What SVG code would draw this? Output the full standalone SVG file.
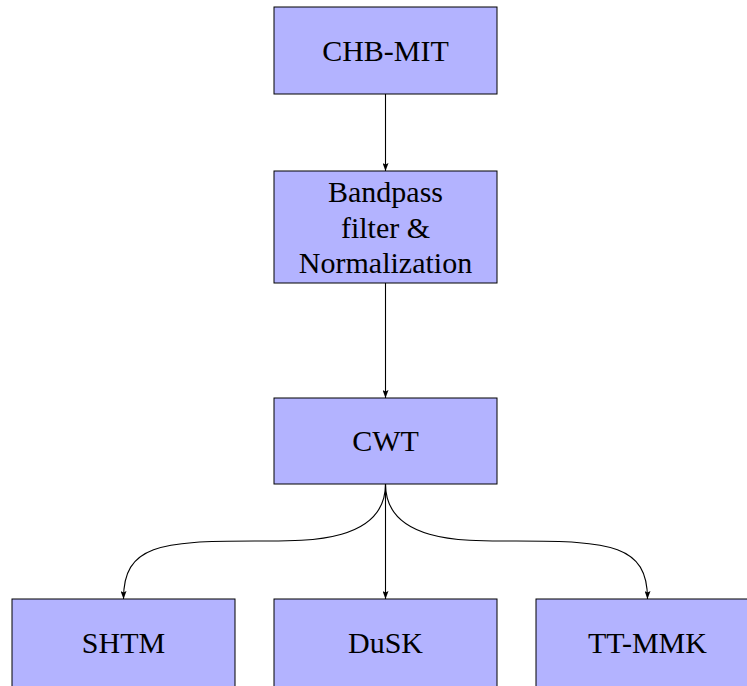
<svg xmlns="http://www.w3.org/2000/svg" width="747" height="686" viewBox="0 0 747 686">
<defs>
<style>
.box{fill:#b3b3ff;stroke:#000;stroke-width:1}
.lbl{font-family:"Liberation Serif","DejaVu Serif",serif;font-size:30px;fill:#000;text-anchor:middle}
.con{fill:none;stroke:#000;stroke-width:1.1}
</style>
<marker id="arr" viewBox="0 0 8 6" refX="8" refY="3" markerWidth="8" markerHeight="6" markerUnits="userSpaceOnUse" orient="auto">
<path d="M0,0 L8,3 L0,6 L1.5,3 Z" fill="#000"/>
</marker>
</defs>
<rect width="747" height="686" fill="#fff"/>
<g id="connectors">
<path class="con" d="M385.5,94 L385.5,171" marker-end="url(#arr)"/>
<path class="con" d="M385.5,283 L385.5,398" marker-end="url(#arr)"/>
<path class="con" d="M385.5,484 L385.5,599" marker-end="url(#arr)"/>
<path class="con" d="M385.5,484 C385.5,545 300,541 254.5,541 C160,541 123.5,545 123.5,599" marker-end="url(#arr)"/>
<path class="con" d="M385.5,484 C385.5,545 471,541 516.5,541 C611,541 647.5,545 647.5,599" marker-end="url(#arr)"/>
</g>
<g id="chbmit">
<rect class="box" x="274" y="7" width="223" height="87"/>
<text class="lbl" x="385.5" y="61">CHB-MIT</text>
</g>
<g id="bandpass">
<rect class="box" x="274" y="171" width="223" height="112"/>
<text class="lbl" x="385.5" y="202">Bandpass</text>
<text class="lbl" x="385.5" y="238">filter &amp;</text>
<text class="lbl" x="385.5" y="273">Normalization</text>
</g>
<g id="cwt">
<rect class="box" x="274" y="398" width="223" height="86"/>
<text class="lbl" x="385.5" y="451">CWT</text>
</g>
<g id="shtm">
<rect class="box" x="12" y="599" width="223" height="92"/>
<text class="lbl" x="123.5" y="653">SHTM</text>
</g>
<g id="dusk">
<rect class="box" x="274" y="599" width="223" height="92"/>
<text class="lbl" x="385.5" y="653">DuSK</text>
</g>
<g id="ttmmk">
<rect class="box" x="536" y="599" width="223" height="92"/>
<text class="lbl" x="647.5" y="653">TT-MMK</text>
</g>
</svg>
